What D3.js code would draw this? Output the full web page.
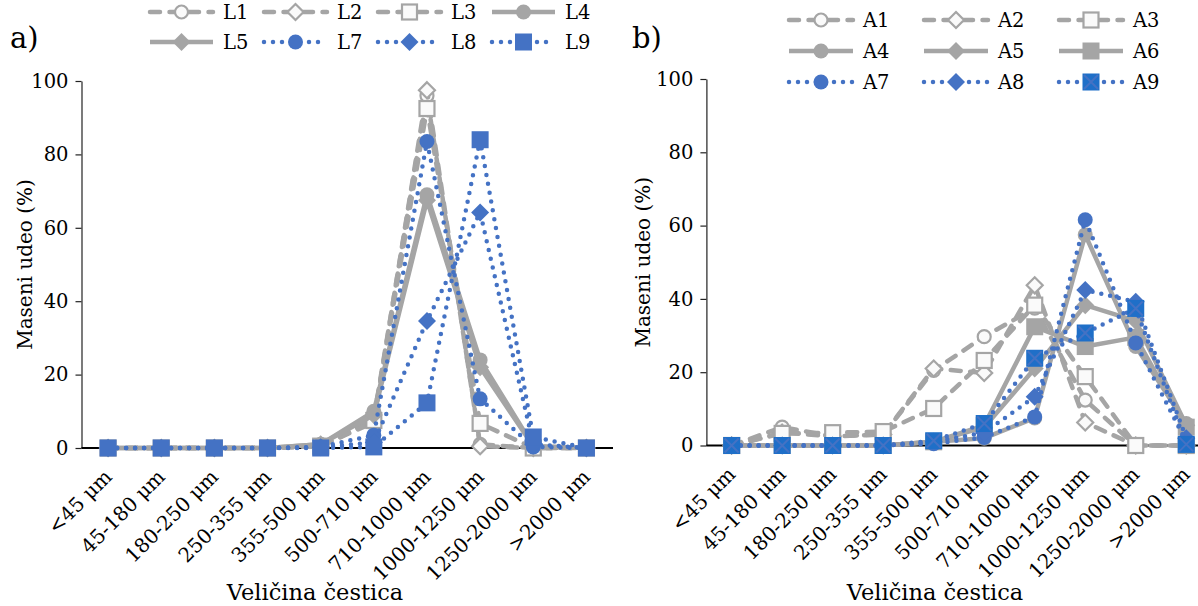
<!DOCTYPE html>
<html><head><meta charset="utf-8">
<script src="https://cdn.jsdelivr.net/npm/d3@7"></script>
<style>
body{margin:0;background:#fff}
svg{display:block}
text{font-family:"DejaVu Serif",serif;fill:#000}
</style>
</head><body><svg id="c" width="1198" height="606"></svg>
<script>
// ---------- data ----------
const categories = ["<45 μm","45-180 μm","180-250 μm","250-355 μm","355-500 μm","500-710 μm","710-1000 μm","1000-1250 μm","1250-2000 μm",">2000 μm"];
const yTicks = [0,20,40,60,80,100];
const xTitle = "Veličina čestica";
const yTitle = "Maseni udeo (%)";

const seriesA = ["L1","L2","L3","L4","L5","L7","L8","L9"];
const L1 = [0,0,0,0,0.5,8,96,1,0,0];
const L2 = [0,0,0,0,0.5,7,97.5,0.5,0,0];
const L3 = [0,0,0,0,0.5,7.5,92.5,6.7,0,0];
const L4 = [0,0,0,0,1,10,69,24,0.5,0];
const L5 = [0,0,0,0,1,9,67.5,22,0.5,0];
const L7 = [0,0,0,0,0.3,3.5,83.5,13.4,0.3,0];
const L8 = [0,0,0,0,0.2,1.5,34.6,64.2,1,0];
const L9 = [0,0,0,0,0,0.3,12.3,84,3,0];

const seriesB = ["A1","A2","A3","A4","A5","A6","A7","A8","A9"];
const A1 = [0,5,2.5,3,20.5,29.7,37.5,12.4,0,0];
const A2 = [0,3.5,2.5,3,21,19.8,43.7,6.3,0,0];
const A3 = [0,3.3,3.5,3.8,10.1,23.2,38.3,18.8,0,0];
const A4 = [0,0,0,0,1,2,7.5,57.5,27,6];
const A5 = [0,0,0,0,1,5,21,38.3,34,5.5];
const A6 = [0,0,0,0,1,5.5,32.4,27,29.5,5];
const A7 = [0,0,0,0,0.5,2.2,7.8,61.6,28,1];
const A8 = [0,0,0,0,1,3.5,13.3,42.4,39.2,2];
const A9 = [0,0,0,0,1.3,6,23.8,30.7,37.4,0.3];

const valuesOf = {L1,L2,L3,L4,L5,L7,L8,L9,A1,A2,A3,A4,A5,A6,A7,A8,A9};

// ---------- styles ----------
const GRAY = "#A5A5A5", BLUE = "#4472C4", BLUE2 = "#1F6FC8";
const styleOf = {
  L1:{line:"dash",mk:"circle",open:true}, L2:{line:"dash",mk:"diamond",open:true}, L3:{line:"dash",mk:"square",open:true},
  L4:{line:"solid",mk:"circle"}, L5:{line:"solid",mk:"diamond"},
  L7:{line:"dot",mk:"circle"}, L8:{line:"dot",mk:"diamond"}, L9:{line:"dot",mk:"square"},
  A1:{line:"dash",mk:"circle",open:true}, A2:{line:"dash",mk:"diamond",open:true}, A3:{line:"dash",mk:"square",open:true},
  A4:{line:"solid",mk:"circle"}, A5:{line:"solid",mk:"diamond"}, A6:{line:"solid",mk:"square"},
  A7:{line:"dot",mk:"circle"}, A8:{line:"dot",mk:"diamond"}, A9:{line:"dot",mk:"squareX"}
};

const svg = d3.select("#c");
svg.append("rect").attr("width",1198).attr("height",606).attr("fill","#fff");

function lineAttrs(sel, st){
  const color = st.line==="dot" ? BLUE : GRAY;
  sel.attr("fill","none").attr("stroke",color).attr("stroke-width",4.5)
     .attr("stroke-linejoin","round");
  if(st.line==="dash") sel.attr("stroke-dasharray","10,9.5").attr("stroke-linecap","round");
  else if(st.line==="dot") sel.attr("stroke-dasharray","0,9").attr("stroke-linecap","round");
}

function drawMarker(g, st, cx, cy){
  const color = st.line==="dot" ? BLUE : GRAY;
  if(st.open){
    const f="#FAFAFA", sw=2.2;
    if(st.mk==="circle") g.append("circle").attr("cx",cx).attr("cy",cy).attr("r",6.5).attr("fill",f).attr("stroke",GRAY).attr("stroke-width",sw);
    if(st.mk==="diamond") g.append("path").attr("d",`M${cx},${cy-8}L${cx+8},${cy}L${cx},${cy+8}L${cx-8},${cy}Z`).attr("fill",f).attr("stroke",GRAY).attr("stroke-width",sw);
    if(st.mk==="square") g.append("rect").attr("x",cx-7.5).attr("y",cy-7.5).attr("width",15).attr("height",15).attr("fill",f).attr("stroke",GRAY).attr("stroke-width",sw);
    return;
  }
  if(st.mk==="circle") g.append("circle").attr("cx",cx).attr("cy",cy).attr("r",7.5).attr("fill",color);
  if(st.mk==="diamond") g.append("path").attr("d",`M${cx},${cy-9}L${cx+9},${cy}L${cx},${cy+9}L${cx-9},${cy}Z`).attr("fill",color);
  if(st.mk==="square") g.append("rect").attr("x",cx-8.5).attr("y",cy-8.5).attr("width",17).attr("height",17).attr("fill",color);
  if(st.mk==="squareX"){
    g.append("rect").attr("x",cx-8.5).attr("y",cy-8.5).attr("width",17).attr("height",17).attr("fill",BLUE2);
    g.append("path").attr("d",`M${cx-7},${cy-7}L${cx+7},${cy+7}M${cx+7},${cy-7}L${cx-7},${cy+7}`).attr("stroke",BLUE).attr("stroke-width",2);
  }
}

function panel(cfg){
  const x = d3.scalePoint().domain(categories).range([cfg.x0,cfg.x1]).padding(0.5);
  const y = d3.scaleLinear().domain([0,100]).range([cfg.y0,cfg.y1]);
  const g = svg.append("g");

  // y axis
  const ya = g.append("g").attr("transform",`translate(${cfg.x0},0)`)
    .call(d3.axisLeft(y).tickValues(yTicks).tickSize(6).tickSizeOuter(0).tickPadding(7));
  ya.select(".domain").attr("stroke","#222").attr("stroke-width",1.2);
  ya.selectAll(".tick line").attr("stroke","#222").attr("stroke-width",1.2);
  ya.selectAll(".tick text").attr("font-family","DejaVu Serif").attr("font-size",19.5).attr("fill","#000");

  // x axis line
  g.append("line").attr("x1",cfg.x0).attr("x2",cfg.x1).attr("y1",y(0)).attr("y2",y(0))
    .attr("stroke","#000").attr("stroke-width",2);

  // x tick labels
  categories.forEach(c=>{
    g.append("text").attr("text-anchor","end").attr("font-size",20)
      .attr("transform",`translate(${x(c)+5},${y(0)+30}) rotate(-45)`).text(c);
  });

  // lines and markers
  const lineGen = d3.line().x((d,i)=>x(categories[i])).y(d=>y(d));
  cfg.series.forEach(name=>{
    const st = styleOf[name], vals = valuesOf[name];
    g.append("path").datum(vals).attr("d",lineGen).call(lineAttrs, st);
    vals.forEach((v,i)=>drawMarker(g, st, x(categories[i]), y(v)));
  });

  // titles
  g.append("text").attr("x",cfg.xt).attr("y",600).attr("text-anchor","middle").attr("font-size",22.5).text(xTitle);
  g.append("text").attr("transform",`translate(${cfg.yt},${(cfg.y0+cfg.y1)/2}) rotate(-90)`)
    .attr("text-anchor","middle").attr("dy","0.35em").attr("font-size",20).text(yTitle);
  g.append("text").attr("x",cfg.lx).attr("y",48).attr("font-size",29).text(cfg.label);

  // legend
  cfg.series.forEach((name,k)=>{
    const col = k % cfg.cols, row = Math.floor(k / cfg.cols);
    const lx = cfg.legX + col*cfg.legDX, ly = cfg.legY + row*cfg.legDY;
    const st = styleOf[name];
    const lg = g.append("g");
    lg.append("path").attr("d",`M${lx},${ly}L${lx+cfg.legLen},${ly}`).call(lineAttrs, st);
    drawMarker(lg, st, lx+cfg.legLen/2, ly);
    lg.append("text").attr("x",lx+cfg.legLen+10).attr("y",ly).attr("dy","0.36em").attr("font-size",19.5).text(name);
  });
}

panel({x0:81.5,x1:613,y0:448,y1:81,series:seriesA,xt:315,yt:25,lx:10,label:"a)",
  cols:4,legX:150,legDX:114,legY:12,legDY:30,legLen:63});
panel({x0:706.4,x1:1211.5,y0:445.5,y1:79,series:seriesB,xt:935,yt:643,lx:632,label:"b)",
  cols:3,legX:789,legDX:135,legY:20,legDY:31,legLen:64});
</script>
</body></html>
